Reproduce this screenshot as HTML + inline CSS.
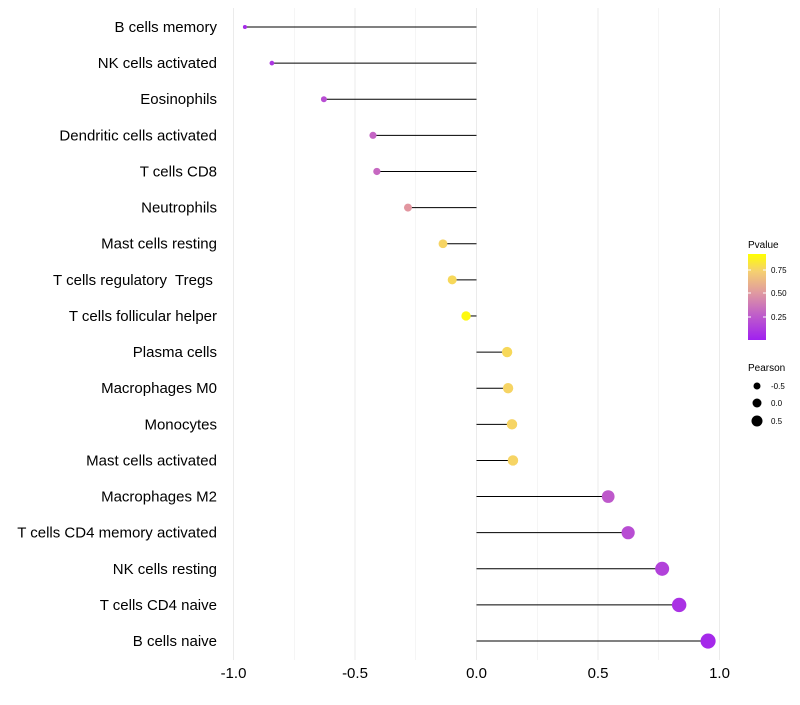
<!DOCTYPE html>
<html><head><meta charset="utf-8"><style>body{margin:0;background:#fff}svg{font-family:"Liberation Sans",sans-serif}</style></head>
<body>
<svg id="chart" width="800" height="700">
<defs><linearGradient id="pg" x1="0" y1="1" x2="0" y2="0">
<stop offset="0" stop-color="#a020f0"/><stop offset="0.3" stop-color="#c060c8"/><stop offset="0.55" stop-color="#e09aa0"/><stop offset="0.8" stop-color="#f5d070"/><stop offset="1" stop-color="#ffff00"/></linearGradient></defs>
<g id="grid"></g><g id="marks"></g><g id="labels"></g>
<g>
<text x="748" y="248" font-size="10">Pvalue</text>
<rect x="748" y="254" width="18" height="86" fill="url(#pg)"/>
<line x1="748" x2="751" y1="270" y2="270" stroke="#fff"/><line x1="763" x2="766" y1="270" y2="270" stroke="#fff"/>
<line x1="748" x2="751" y1="293" y2="293" stroke="#fff"/><line x1="763" x2="766" y1="293" y2="293" stroke="#fff"/>
<line x1="748" x2="751" y1="317" y2="317" stroke="#fff"/><line x1="763" x2="766" y1="317" y2="317" stroke="#fff"/>
<text x="771" y="273" font-size="8">0.75</text><text x="771" y="296" font-size="8">0.50</text><text x="771" y="320" font-size="8">0.25</text>
</g>
<g>
<text x="748" y="371" font-size="10">Pearson</text>
<circle cx="757" cy="386" r="3.5"/><circle cx="757" cy="403" r="4.5"/><circle cx="757" cy="421" r="5.5"/>
<text x="771" y="389" font-size="8">-0.5</text><text x="771" y="406" font-size="8">0.0</text><text x="771" y="424" font-size="8">0.5</text>
</g>
</svg>
<script>
const categories=["B cells memory","NK cells activated","Eosinophils","Dendritic cells activated","T cells CD8","Neutrophils","Mast cells resting","T cells regulatory  Tregs ","T cells follicular helper","Plasma cells","Macrophages M0","Monocytes","Mast cells activated","Macrophages M2","T cells CD4 memory activated","NK cells resting","T cells CD4 naive","B cells naive"];
const pearson=[-0.953,-0.842,-0.628,-0.426,-0.41,-0.282,-0.138,-0.10,-0.043,0.126,0.130,0.146,0.150,0.542,0.624,0.764,0.834,0.953];
const pvalue=[0.05,0.1,0.2,0.3,0.32,0.55,0.8,0.82,0.97,0.82,0.8,0.8,0.8,0.25,0.2,0.15,0.08,0.04];
const xTicks=[-1.0,-0.5,0.0,0.5,1.0];
const NS="http://www.w3.org/2000/svg";
const xs=v=>476.5+v*243;
const ys=i=>27+i*36.12;
const rs=v=>4.8+v*2.9;
function lerp(a,b,t){return a+(b-a)*t}
const stops=[[0,[160,32,240]],[0.3,[196,100,196]],[0.55,[226,150,160]],[0.8,[246,212,100]],[1,[255,255,0]]];
function col(p){for(let k=1;k<stops.length;k++){if(p<=stops[k][0]){const a=stops[k-1],b=stops[k],t=(p-a[0])/(b[0]-a[0]);return `rgb(${a[1].map((c,j)=>Math.round(lerp(c,b[1][j],t))).join(',')})`;}}return 'rgb(255,255,0)';}
function mk(t,at,par){const e=document.createElementNS(NS,t);for(const k in at)e.setAttribute(k,at[k]);document.getElementById(par).appendChild(e);return e;}
for(let v=-1;v<=1.001;v+=0.25){const g=mk('line',{x1:xs(v),x2:xs(v),y1:8,y2:660,stroke:'#ebebeb','stroke-width':Math.abs(v*2-Math.round(v*2))<0.01?1:0.5},'grid');

}
xTicks.forEach(v=>{const t=mk('text',{x:xs(v),y:678,'font-size':15,'text-anchor':'middle',fill:'#000'},'labels');t.textContent=v.toFixed(1);

});
categories.forEach((c,i)=>{
const t=mk('text',{x:217,y:ys(i)+5,'font-size':15,'text-anchor':'end',style:'white-space:pre'},'labels');t.textContent=c;


const l=mk('line',{x1:xs(0),x2:xs(pearson[i]),y1:ys(i),y2:ys(i),stroke:'#000','stroke-width':1},'marks');


const p=mk('circle',{cx:xs(pearson[i]),cy:ys(i),r:rs(pearson[i]),fill:col(pvalue[i])},'marks');


});
</script>
</body></html>
